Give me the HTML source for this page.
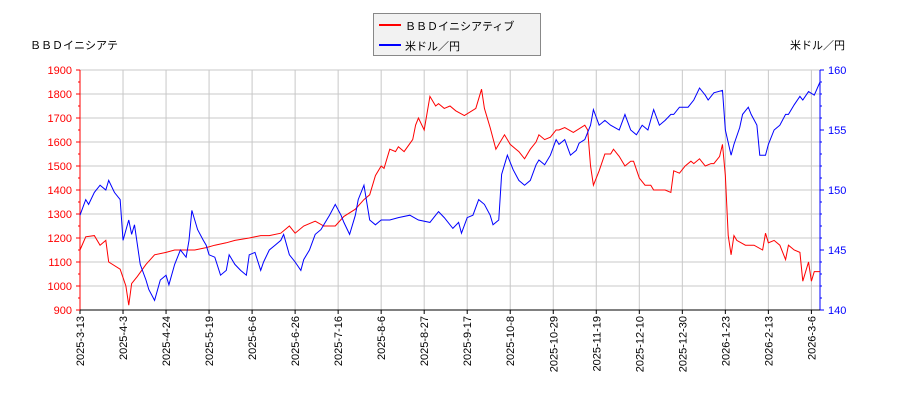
<!DOCTYPE html>
<html><head><meta charset="utf-8"><style>
body{margin:0;background:#fff;}
svg text{font-family:"Liberation Sans","Noto Sans CJK JP",sans-serif;font-size:11px;}
</style></head><body>
<svg id="c" width="900" height="400" xmlns="http://www.w3.org/2000/svg"></svg>
<script>
const xTickLabels=["2025-3-13","2025-4-3","2025-4-24","2025-5-19","2025-6-6","2025-6-26","2025-7-16","2025-8-6","2025-8-27","2025-9-17","2025-10-8","2025-10-29","2025-11-19","2025-12-10","2025-12-30","2026-1-23","2026-2-13","2026-3-6"];
const leftTicks=[900,1000,1100,1200,1300,1400,1500,1600,1700,1800,1900];
const rightTicks=[140,145,150,155,160];
const redDays=[0,2,5,7,9,10,14,16,17,18,20,23,26,30,33,37,40,44,47,51,54,59,63,66,70,73,75,78,82,85,89,92,96,99,101,103,105,106,108,110,111,113,116,117,118,120,122,124,125,127,129,131,134,138,140,141,143,145,146,148,150,152,153,155,157,159,160,162,164,166,167,169,172,176,177,178,179,181,183,185,186,188,190,192,193,195,197,199,200,204,206,207,209,211,213,214,216,218,220,221,223,224,225,226,227,228,229,232,235,238,239,240,242,244,246,247,249,251,252,254,255,256,258];
const redVals=[1150,1205,1210,1170,1190,1100,1070,1000,920,1010,1040,1090,1130,1140,1150,1150,1150,1160,1170,1180,1190,1200,1210,1210,1220,1250,1220,1250,1270,1250,1250,1290,1320,1360,1380,1460,1500,1490,1570,1560,1580,1560,1610,1670,1700,1650,1790,1750,1760,1740,1750,1730,1710,1740,1820,1740,1660,1570,1590,1630,1590,1570,1560,1530,1570,1600,1630,1610,1620,1650,1650,1660,1640,1670,1650,1500,1420,1480,1550,1550,1570,1540,1500,1520,1520,1450,1420,1420,1400,1400,1390,1480,1470,1500,1520,1510,1530,1500,1510,1510,1540,1590,1460,1210,1130,1210,1190,1170,1170,1150,1220,1180,1190,1170,1110,1170,1150,1140,1020,1100,1020,1060,1060];
const blueDays=[0,2,3,5,7,9,10,12,14,15,17,18,19,21,23,24,26,28,30,31,33,35,37,38,39,41,43,44,45,47,49,51,52,54,56,58,59,61,63,64,66,68,70,71,73,75,77,78,80,82,84,85,87,89,91,92,94,96,97,99,101,103,105,108,111,115,118,122,124,125,127,130,132,133,135,137,139,141,143,144,146,147,149,151,153,155,157,159,160,162,164,166,167,169,171,173,174,176,178,179,181,183,185,188,190,192,194,196,198,200,202,204,206,207,209,212,214,216,218,219,221,224,225,227,228,230,231,233,234,236,237,239,240,242,244,246,247,249,251,252,254,256,258];
const blueVals=[147.9,149.2,148.8,149.8,150.4,150,150.8,149.8,149.2,145.8,147.5,146.3,147.1,143.8,142.5,141.7,140.8,142.5,142.9,142.1,143.8,145,144.4,145.8,148.3,146.7,145.8,145.4,144.6,144.4,142.9,143.3,144.6,143.8,143.3,142.9,144.6,144.8,143.3,144,145,145.4,145.8,146.3,144.6,144,143.3,144.2,145,146.3,146.7,147.1,147.9,148.8,147.9,147.3,146.3,147.9,149.2,150.4,147.5,147.1,147.5,147.5,147.7,147.9,147.5,147.3,147.9,148.2,147.7,146.8,147.3,146.4,147.7,147.9,149.2,148.8,147.9,147.1,147.5,151.3,152.9,151.7,150.8,150.4,150.8,152.1,152.5,152.1,152.9,154.2,153.8,154.2,152.9,153.3,153.9,154.2,155.4,156.7,155.4,155.8,155.4,155,156.3,155,154.6,155.4,155,156.7,155.4,155.8,156.3,156.3,156.9,156.9,157.5,158.5,157.9,157.5,158.1,158.3,155,152.9,153.8,155.2,156.3,156.9,156.3,155.4,152.9,152.9,153.8,155,155.4,156.3,156.3,157.1,157.8,157.5,158.2,157.9,159];

const svg=document.getElementById('c');const NS='http://www.w3.org/2000/svg';
const L=80,R=820,T=70,B=310,DAYS=258,TICKSTEP=15;
const x=d=>L+d*(R-L)/DAYS;
const yL=v=>B-(v-900)/1000*(B-T);
const yR=v=>B-(v-140)/20*(B-T);
function mk(t,a,txt){const e=document.createElementNS(NS,t);for(const k in a)e.setAttribute(k,a[k]);if(txt!==undefined)e.textContent=txt;svg.appendChild(e);return e;}
// grid
leftTicks.forEach(v=>{const g=mk('line',{x1:L,x2:R,y1:yL(v),y2:yL(v),stroke:'#c8c8c8'});

});
xTickLabels.forEach((s,i)=>{const xx=x(i*TICKSTEP);
const g=mk('line',{x1:xx,x2:xx,y1:T,y2:B,stroke:'#c8c8c8'});


mk('line',{x1:xx,x2:xx,y1:B,y2:B+4,stroke:'#000'});
const t=mk('text',{transform:`translate(${xx+4},${B+6}) rotate(-90)`,'text-anchor':'end'},s);

});
// axes
mk('line',{x1:L,x2:L,y1:T,y2:B,stroke:'#f00'});
mk('line',{x1:R,x2:R,y1:T,y2:B,stroke:'#00f'});
mk('line',{x1:L,x2:R,y1:B,y2:B,stroke:'#000'});
leftTicks.forEach(v=>{mk('line',{x1:L-4,x2:L,y1:yL(v),y2:yL(v),stroke:'#f00'});
if(v<1900)mk('line',{x1:L-2,x2:L,y1:yL(v+50),y2:yL(v+50),stroke:'#f00'});
const t=mk('text',{x:L-8,y:yL(v)+4,'text-anchor':'end',fill:'#f00'},v);

});
rightTicks.forEach(v=>{mk('line',{x1:R,x2:R+4,y1:yR(v),y2:yR(v),stroke:'#00f'});
const t=mk('text',{x:R+8,y:yR(v)+4,fill:'#00f'},v);

});
for(let v=141;v<160;v++){if(v%5)mk('line',{x1:R,x2:R+2,y1:yR(v),y2:yR(v),stroke:'#00f'});}
// series
const rp=mk('polyline',{points:redDays.map((d,i)=>x(d)+','+yL(redVals[i])).join(' '),fill:'none',stroke:'#f00','stroke-width':1});


const bp=mk('polyline',{points:blueDays.map((d,i)=>x(d)+','+yR(blueVals[i])).join(' '),fill:'none',stroke:'#00f','stroke-width':1});


// labels
const a1=mk('text',{x:30,y:49},'ＢＢＤイニシアテ');


const a2=mk('text',{x:790,y:49},'米ドル／円');


// legend
const lg=mk('rect',{x:373.5,y:13.5,width:167,height:42,fill:'#f2f2f2',stroke:'#888'});


mk('line',{x1:379,x2:401,y1:25,y2:25,stroke:'#f00','stroke-width':2});
const l1=mk('text',{x:405,y:30},'ＢＢＤイニシアティブ');


mk('line',{x1:379,x2:401,y1:45,y2:45,stroke:'#00f','stroke-width':2});
const l2=mk('text',{x:405,y:50},'米ドル／円');


</script>
</body></html>
